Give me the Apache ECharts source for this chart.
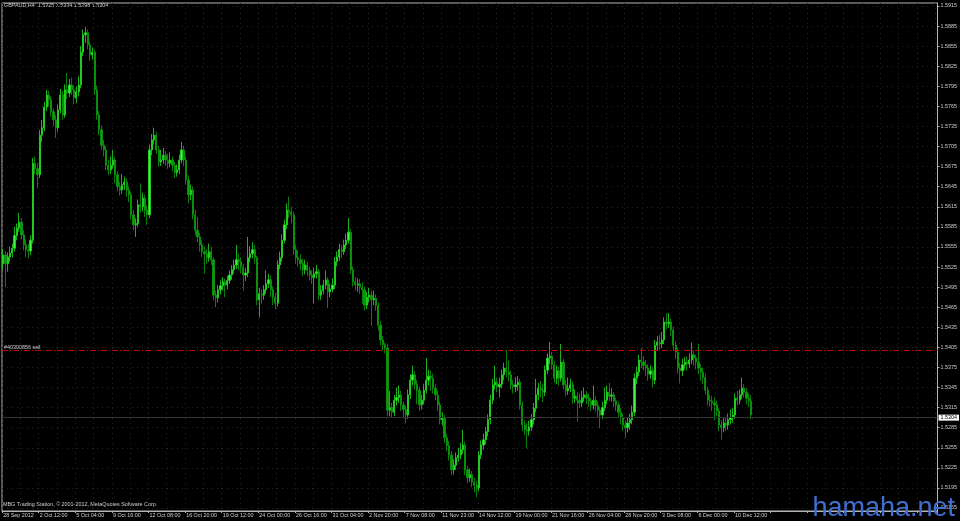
<!DOCTYPE html>
<html><head><meta charset="utf-8">
<script src="https://cdn.jsdelivr.net/npm/echarts@6/dist/echarts.min.js"></script>
<style>html,body{margin:0;padding:0;background:#000;}#c{width:960px;height:521px;}</style>
</head><body><div id="c"></div>
<script>
const symbolTitle = 'GBPAUD,H4  1.5325 1.5334 1.5298 1.5304';
const copyright = 'MBG Trading Station, \u00a9 2001-2012, MetaQuotes Software Corp.';
const orderLabel = '#40300856 sell';
const orderPrice = 1.5401;
const lastPrice = 1.5304;
const watermark = 'hamaha.net';

const dateLabels = ['28 Sep 2012','2 Oct 12:00','5 Oct 04:00','9 Oct 16:00','12 Oct 08:00','16 Oct 20:00','19 Oct 12:00','24 Oct 00:00','26 Oct 16:00','31 Oct 04:00','2 Nov 20:00','7 Nov 08:00','11 Nov 23:00','14 Nov 12:00','19 Nov 00:00','21 Nov 16:00','26 Nov 04:00','28 Nov 20:00','3 Dec 08:00','6 Dec 00:00','10 Dec 12:00'];

const priceTicks = [1.5165,1.5195,1.5225,1.5255,1.5285,1.5315,1.5345,1.5375,1.5405,1.5435,1.5465,1.5495,1.5525,1.5555,1.5585,1.5615,1.5645,1.5675,1.5705,1.5735,1.5765,1.5795,1.5825,1.5855,1.5885,1.5915];

const opens = [
1.5530,1.5543,1.5530,1.5540,1.5546,1.5553,1.5572,1.5583,1.5592,1.5573,
1.5558,1.5551,1.5549,1.5565,1.5680,1.5672,1.5663,1.5722,1.5733,1.5764,
1.5782,1.5775,1.5757,1.5745,1.5733,1.5760,1.5782,1.5752,1.5790,1.5785,
1.5797,1.5790,1.5778,1.5787,1.5797,1.5846,1.5872,1.5875,1.5857,1.5842,
1.5846,1.5790,1.5752,1.5730,1.5707,1.5700,1.5677,1.5670,1.5677,1.5685,
1.5663,1.5645,1.5640,1.5648,1.5652,1.5640,1.5633,1.5603,1.5588,1.5590,
1.5618,1.5615,1.5628,1.5610,1.5603,1.5700,1.5715,1.5722,1.5700,1.5682,
1.5685,1.5692,1.5685,1.5680,1.5685,1.5677,1.5666,1.5670,1.5685,1.5700,
1.5685,1.5655,1.5633,1.5640,1.5603,1.5580,1.5570,1.5558,1.5548,1.5545,
1.5539,1.5548,1.5536,1.5483,1.5479,1.5491,1.5497,1.5503,1.5498,1.5505,
1.5513,1.5521,1.5528,1.5536,1.5533,1.5525,1.5513,1.5516,1.5539,1.5545,
1.5551,1.5539,1.5476,1.5485,1.5483,1.5491,1.5500,1.5506,1.5491,1.5480,
1.5471,1.5528,1.5539,1.5565,1.5588,1.5610,1.5607,1.5603,1.5551,1.5539,
1.5536,1.5530,1.5521,1.5528,1.5520,1.5513,1.5509,1.5515,1.5518,1.5483,
1.5490,1.5498,1.5506,1.5488,1.5492,1.5498,1.5533,1.5540,1.5551,1.5548,
1.5558,1.5565,1.5577,1.5521,1.5503,1.5498,1.5500,1.5495,1.5491,1.5468,
1.5480,1.5483,1.5476,1.5478,1.5468,1.5438,1.5416,1.5409,1.5404,1.5311,
1.5315,1.5308,1.5326,1.5330,1.5334,1.5319,1.5312,1.5304,1.5334,1.5356,
1.5364,1.5350,1.5341,1.5319,1.5326,1.5341,1.5356,1.5362,1.5359,1.5344,
1.5334,1.5319,1.5297,1.5299,1.5270,1.5258,1.5244,1.5222,1.5229,1.5240,
1.5244,1.5252,1.5259,1.5222,1.5210,1.5215,1.5204,1.5199,1.5195,1.5244,
1.5259,1.5267,1.5279,1.5297,1.5326,1.5349,1.5353,1.5346,1.5350,1.5364,
1.5374,1.5368,1.5364,1.5349,1.5346,1.5349,1.5353,1.5319,1.5289,1.5282,
1.5280,1.5286,1.5297,1.5314,1.5334,1.5344,1.5341,1.5338,1.5371,1.5389,
1.5392,1.5379,1.5359,1.5370,1.5359,1.5383,1.5349,1.5340,1.5344,1.5349,
1.5329,1.5332,1.5326,1.5322,1.5330,1.5334,1.5329,1.5325,1.5319,1.5326,
1.5318,1.5311,1.5304,1.5315,1.5326,1.5338,1.5332,1.5334,1.5325,1.5319,
1.5308,1.5300,1.5289,1.5285,1.5292,1.5297,1.5308,1.5359,1.5368,1.5386,
1.5383,1.5378,1.5374,1.5365,1.5370,1.5356,1.5408,1.5413,1.5410,1.5416,
1.5443,1.5440,1.5443,1.5431,1.5408,1.5398,1.5374,1.5370,1.5379,1.5383,
1.5380,1.5386,1.5394,1.5389,1.5383,1.5374,1.5368,1.5360,1.5341,1.5326,
1.5325,1.5322,1.5319,1.5310,1.5289,1.5285,1.5292,1.5289,1.5297,1.5300,
1.5304,1.5329,1.5326,1.5334,1.5344,1.5338,1.5329,1.5325];

const closes = [
1.5543,1.5530,1.5540,1.5546,1.5553,1.5572,1.5583,1.5592,1.5573,1.5558,
1.5551,1.5549,1.5565,1.5680,1.5672,1.5663,1.5722,1.5733,1.5764,1.5782,
1.5775,1.5757,1.5745,1.5733,1.5760,1.5782,1.5752,1.5790,1.5785,1.5797,
1.5790,1.5778,1.5787,1.5797,1.5846,1.5872,1.5875,1.5857,1.5842,1.5846,
1.5790,1.5752,1.5730,1.5707,1.5700,1.5677,1.5670,1.5677,1.5685,1.5663,
1.5645,1.5640,1.5648,1.5652,1.5640,1.5633,1.5603,1.5588,1.5590,1.5618,
1.5615,1.5628,1.5610,1.5603,1.5700,1.5715,1.5722,1.5700,1.5682,1.5685,
1.5692,1.5685,1.5680,1.5685,1.5677,1.5666,1.5670,1.5685,1.5700,1.5685,
1.5655,1.5633,1.5640,1.5603,1.5580,1.5570,1.5558,1.5548,1.5545,1.5539,
1.5548,1.5536,1.5483,1.5479,1.5491,1.5497,1.5503,1.5498,1.5505,1.5513,
1.5521,1.5528,1.5536,1.5533,1.5525,1.5513,1.5516,1.5539,1.5545,1.5551,
1.5539,1.5476,1.5485,1.5483,1.5491,1.5500,1.5506,1.5491,1.5480,1.5471,
1.5528,1.5539,1.5565,1.5588,1.5610,1.5607,1.5603,1.5551,1.5539,1.5536,
1.5530,1.5521,1.5528,1.5520,1.5513,1.5509,1.5515,1.5518,1.5483,1.5490,
1.5498,1.5506,1.5488,1.5492,1.5498,1.5533,1.5540,1.5551,1.5548,1.5558,
1.5565,1.5577,1.5521,1.5503,1.5498,1.5500,1.5495,1.5491,1.5468,1.5480,
1.5483,1.5476,1.5478,1.5468,1.5438,1.5416,1.5409,1.5404,1.5311,1.5315,
1.5308,1.5326,1.5330,1.5334,1.5319,1.5312,1.5304,1.5334,1.5356,1.5364,
1.5350,1.5341,1.5319,1.5326,1.5341,1.5356,1.5362,1.5359,1.5344,1.5334,
1.5319,1.5297,1.5299,1.5270,1.5258,1.5244,1.5222,1.5229,1.5240,1.5244,
1.5252,1.5259,1.5222,1.5210,1.5215,1.5204,1.5199,1.5195,1.5244,1.5259,
1.5267,1.5279,1.5297,1.5326,1.5349,1.5353,1.5346,1.5350,1.5364,1.5374,
1.5368,1.5364,1.5349,1.5346,1.5349,1.5353,1.5319,1.5289,1.5282,1.5280,
1.5286,1.5297,1.5314,1.5334,1.5344,1.5341,1.5338,1.5371,1.5389,1.5392,
1.5379,1.5359,1.5370,1.5359,1.5383,1.5349,1.5340,1.5344,1.5349,1.5329,
1.5332,1.5326,1.5322,1.5330,1.5334,1.5329,1.5325,1.5319,1.5326,1.5318,
1.5311,1.5304,1.5315,1.5326,1.5338,1.5332,1.5334,1.5325,1.5319,1.5308,
1.5300,1.5289,1.5285,1.5292,1.5297,1.5308,1.5359,1.5368,1.5386,1.5383,
1.5378,1.5374,1.5365,1.5370,1.5356,1.5408,1.5413,1.5410,1.5416,1.5443,
1.5440,1.5443,1.5431,1.5408,1.5398,1.5374,1.5370,1.5379,1.5383,1.5380,
1.5386,1.5394,1.5389,1.5383,1.5374,1.5368,1.5360,1.5341,1.5326,1.5325,
1.5322,1.5319,1.5310,1.5289,1.5285,1.5292,1.5289,1.5297,1.5300,1.5304,
1.5329,1.5326,1.5334,1.5344,1.5338,1.5329,1.5325,1.5304];

const highs = [
1.5552,1.5549,1.5547,1.5556,1.5560,1.5585,1.5590,1.5606,1.5598,1.5580,
1.5566,1.5559,1.5572,1.5688,1.5690,1.5680,1.5730,1.5745,1.5772,1.5790,
1.5788,1.5780,1.5762,1.5752,1.5768,1.5791,1.5788,1.5798,1.5815,1.5806,
1.5808,1.5796,1.5795,1.5810,1.5855,1.5880,1.5884,1.5880,1.5862,1.5853,
1.5850,1.5796,1.5758,1.5736,1.5715,1.5706,1.5685,1.5690,1.5700,1.5690,
1.5668,1.5652,1.5664,1.5660,1.5658,1.5646,1.5638,1.5610,1.5598,1.5626,
1.5650,1.5636,1.5633,1.5617,1.5708,1.5724,1.5733,1.5727,1.5706,1.5700,
1.5703,1.5698,1.5694,1.5696,1.5690,1.5682,1.5678,1.5693,1.5712,1.5706,
1.5690,1.5662,1.5648,1.5645,1.5610,1.5600,1.5576,1.5565,1.5556,1.5552,
1.5560,1.5555,1.5540,1.5490,1.5498,1.5505,1.5510,1.5508,1.5512,1.5520,
1.5528,1.5536,1.5558,1.5545,1.5540,1.5530,1.5524,1.5570,1.5556,1.5562,
1.5558,1.5542,1.5494,1.5492,1.5498,1.5520,1.5515,1.5512,1.5496,1.5486,
1.5535,1.5548,1.5574,1.5596,1.5620,1.5630,1.5615,1.5608,1.5558,1.5550,
1.5544,1.5537,1.5536,1.5533,1.5526,1.5520,1.5524,1.5528,1.5522,1.5498,
1.5506,1.5520,1.5510,1.5500,1.5508,1.5540,1.5548,1.5560,1.5558,1.5566,
1.5575,1.5598,1.5582,1.5526,1.5510,1.5508,1.5507,1.5502,1.5496,1.5488,
1.5494,1.5490,1.5490,1.5484,1.5472,1.5444,1.5422,1.5412,1.5410,1.5340,
1.5322,1.5334,1.5345,1.5348,1.5340,1.5324,1.5318,1.5342,1.5365,1.5378,
1.5370,1.5356,1.5346,1.5334,1.5350,1.5389,1.5372,1.5370,1.5366,1.5350,
1.5340,1.5324,1.5308,1.5304,1.5276,1.5265,1.5250,1.5238,1.5248,1.5255,
1.5262,1.5282,1.5264,1.5228,1.5224,1.5220,1.5210,1.5205,1.5250,1.5266,
1.5276,1.5286,1.5305,1.5334,1.5358,1.5378,1.5360,1.5360,1.5372,1.5382,
1.5401,1.5385,1.5370,1.5356,1.5360,1.5362,1.5358,1.5324,1.5296,1.5292,
1.5295,1.5305,1.5322,1.5358,1.5352,1.5355,1.5350,1.5378,1.5396,1.5413,
1.5398,1.5384,1.5378,1.5376,1.5410,1.5388,1.5356,1.5360,1.5358,1.5354,
1.5342,1.5338,1.5336,1.5340,1.5345,1.5340,1.5336,1.5330,1.5348,1.5332,
1.5324,1.5316,1.5324,1.5345,1.5348,1.5352,1.5344,1.5338,1.5330,1.5324,
1.5314,1.5306,1.5296,1.5300,1.5306,1.5318,1.5366,1.5376,1.5394,1.5404,
1.5392,1.5386,1.5380,1.5378,1.5375,1.5416,1.5422,1.5424,1.5428,1.5450,
1.5456,1.5456,1.5448,1.5436,1.5414,1.5404,1.5382,1.5388,1.5390,1.5392,
1.5396,1.5412,1.5400,1.5394,1.5410,1.5380,1.5374,1.5366,1.5346,1.5334,
1.5332,1.5330,1.5325,1.5314,1.5296,1.5300,1.5300,1.5306,1.5312,1.5314,
1.5336,1.5340,1.5342,1.5360,1.5350,1.5344,1.5336,1.5334];

const lows = [
1.5522,1.5495,1.5518,1.5533,1.5539,1.5548,1.5565,1.5578,1.5566,1.5550,
1.5540,1.5538,1.5543,1.5560,1.5664,1.5643,1.5658,1.5712,1.5728,1.5758,
1.5765,1.5750,1.5735,1.5718,1.5727,1.5755,1.5745,1.5748,1.5776,1.5779,
1.5782,1.5768,1.5770,1.5780,1.5792,1.5840,1.5860,1.5850,1.5833,1.5835,
1.5782,1.5745,1.5722,1.5700,1.5690,1.5670,1.5662,1.5664,1.5672,1.5650,
1.5638,1.5632,1.5634,1.5640,1.5630,1.5622,1.5596,1.5580,1.5570,1.5585,
1.5606,1.5608,1.5600,1.5588,1.5598,1.5692,1.5708,1.5694,1.5675,1.5676,
1.5679,1.5676,1.5672,1.5674,1.5668,1.5658,1.5660,1.5664,1.5680,1.5676,
1.5648,1.5620,1.5625,1.5596,1.5572,1.5562,1.5548,1.5540,1.5515,1.5530,
1.5533,1.5528,1.5475,1.5465,1.5472,1.5484,1.5490,1.5480,1.5492,1.5500,
1.5506,1.5515,1.5522,1.5520,1.5516,1.5490,1.5504,1.5510,1.5532,1.5538,
1.5530,1.5468,1.5450,1.5470,1.5476,1.5485,1.5494,1.5480,1.5468,1.5462,
1.5466,1.5522,1.5533,1.5560,1.5582,1.5598,1.5590,1.5543,1.5530,1.5526,
1.5520,1.5512,1.5514,1.5511,1.5505,1.5500,1.5471,1.5508,1.5476,1.5476,
1.5484,1.5492,1.5464,1.5480,1.5487,1.5492,1.5526,1.5534,1.5538,1.5543,
1.5552,1.5560,1.5515,1.5496,1.5490,1.5488,1.5485,1.5470,1.5460,1.5462,
1.5472,1.5437,1.5468,1.5460,1.5430,1.5408,1.5400,1.5396,1.5302,1.5302,
1.5300,1.5302,1.5318,1.5322,1.5310,1.5300,1.5292,1.5298,1.5328,1.5348,
1.5342,1.5320,1.5310,1.5312,1.5320,1.5336,1.5348,1.5340,1.5336,1.5326,
1.5310,1.5290,1.5288,1.5262,1.5250,1.5236,1.5214,1.5215,1.5222,1.5234,
1.5238,1.5246,1.5214,1.5202,1.5204,1.5196,1.5188,1.5181,1.5190,1.5238,
1.5252,1.5260,1.5272,1.5290,1.5320,1.5342,1.5338,1.5330,1.5344,1.5356,
1.5360,1.5354,1.5342,1.5336,1.5338,1.5340,1.5312,1.5280,1.5274,1.5254,
1.5273,1.5280,1.5290,1.5308,1.5326,1.5330,1.5323,1.5332,1.5365,1.5380,
1.5372,1.5352,1.5350,1.5348,1.5354,1.5342,1.5332,1.5334,1.5338,1.5320,
1.5322,1.5294,1.5314,1.5316,1.5324,1.5320,1.5316,1.5310,1.5312,1.5309,
1.5300,1.5284,1.5298,1.5310,1.5320,1.5325,1.5324,1.5316,1.5310,1.5300,
1.5290,1.5280,1.5270,1.5278,1.5282,1.5290,1.5302,1.5350,1.5362,1.5374,
1.5370,1.5362,1.5355,1.5358,1.5345,1.5350,1.5400,1.5402,1.5404,1.5410,
1.5432,1.5434,1.5422,1.5400,1.5388,1.5366,1.5352,1.5362,1.5372,1.5370,
1.5374,1.5380,1.5378,1.5372,1.5365,1.5355,1.5350,1.5334,1.5318,1.5316,
1.5310,1.5296,1.5302,1.5280,1.5267,1.5278,1.5280,1.5282,1.5290,1.5292,
1.5298,1.5318,1.5320,1.5328,1.5330,1.5320,1.5316,1.5298];

// total bar slots visible on the chart (data + right-hand chart shift)
const SLOTS = 409;
const BARS_PER_LABEL = 16;

const cats = [];
for (let i = 0; i < SLOTS; i++) cats.push(String(i));
const candles = opens.map((o, i) => [o, closes[i], lows[i], highs[i]]);

const FONT = 'Liberation Sans, Arial, sans-serif';
const TXT = '#cfcfcf';
const FRAME = '#b4b4b4';
const GRID = '#262626';

const chart = echarts.init(document.getElementById('c'), null, {renderer: 'canvas'});
chart.setOption({
  backgroundColor: '#000000',
  animation: false,
  grid: {left: 2, top: 3, right: 22, bottom: 10, show: true, borderColor: FRAME, borderWidth: 1},
  xAxis: {
    type: 'category', data: cats, boundaryGap: true,
    axisLine: {show: true, lineStyle: {color: FRAME}},
    axisTick: {show: true, interval: BARS_PER_LABEL - 1, length: 2, lineStyle: {color: FRAME}},
    axisLabel: {
      interval: BARS_PER_LABEL - 1, align: 'left', margin: 2,
      color: TXT, fontSize: 5.4, fontFamily: FONT,
      formatter: (v, i) => dateLabels[i / BARS_PER_LABEL] || ''
    },
    splitLine: {show: true, interval: BARS_PER_LABEL / 2 - 1, lineStyle: {color: GRID, type: [1, 4], width: 1}}
  },
  yAxis: {
    type: 'value', position: 'right', min: 1.51605, max: 1.59195,
    axisLine: {show: true, lineStyle: {color: FRAME}},
    axisTick: {show: true, length: 2, customValues: priceTicks, lineStyle: {color: FRAME}},
    axisLabel: {customValues: priceTicks, formatter: v => v.toFixed(4), color: TXT, fontSize: 5.4, fontFamily: FONT, margin: 3},
    splitLine: {show: true, lineStyle: {color: GRID, type: [1, 4], width: 1}}
  },
  series: [{
    type: 'candlestick',
    data: candles,
    barWidth: 1.7,
    itemStyle: {color: '#45f545', color0: '#0c9e0c', borderColor: '#22dd22', borderColor0: '#0c9e0c', borderWidth: 0.8},
    markLine: {
      symbol: 'none', silent: true, animation: false,
      data: [
        {yAxis: orderPrice,
         lineStyle: {color: '#c40000', type: [6, 2, 1, 2], width: 1},
         label: {show: true, position: 'insideStartTop', formatter: orderLabel, color: TXT, fontSize: 5.4, fontFamily: FONT, distance: [2, 1]}},
        {yAxis: lastPrice,
         lineStyle: {color: '#333333', type: 'solid', width: 1},
         label: {show: true, position: 'end', distance: 1, formatter: lastPrice.toFixed(4), color: '#000', backgroundColor: '#ffffff', padding: [1, 2, 0, 2], fontSize: 5.4, fontFamily: FONT}}
      ]
    }
  }],
  graphic: [
    {type: 'text', left: 4, top: 3, style: {text: symbolTitle, fill: TXT, font: '5.4px ' + FONT}},
    {type: 'text', left: 3, top: 502, style: {text: copyright, fill: TXT, font: '5.4px ' + FONT}},
    {type: 'text', right: 5, top: 495, z: 100, style: {text: watermark, fill: '#3f6fd0', font: '27px ' + FONT}}
  ]
});
</script>
</body></html>
